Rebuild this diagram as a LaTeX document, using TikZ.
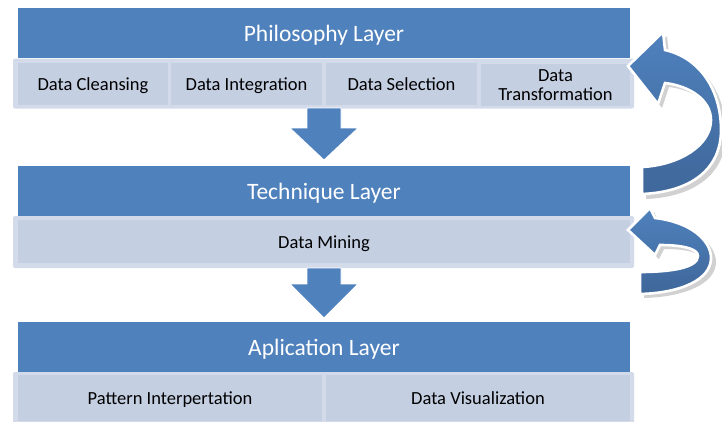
\documentclass[tikz,border=0pt]{standalone}
\usepackage{fontspec}
\setmainfont{Carlito}
\definecolor{hdr}{HTML}{4F81BD}
\definecolor{cell}{HTML}{C4CFE2}
\definecolor{frame}{HTML}{D3DBEA}
\definecolor{dark}{HTML}{3F679A}
\tikzset{
  header/.style={draw=none, fill=hdr, text=white, font=\fontsize{23.5}{26}\selectfont, minimum height=50pt, inner sep=0pt, text height=16pt, text depth=0pt},
  rowframe/.style={draw=none, fill=frame, rounded corners=2pt, inner sep=0pt},
  cellbase/.style={draw=none, fill=cell, text=black, font=\fontsize{18.5}{19}\selectfont, align=center, inner sep=0pt, minimum height=42pt},
  cellbox/.style={cellbase, text height=13pt, text depth=0pt},
  downarrow/.style={draw=white, line width=0.8pt, fill=hdr, line join=miter},
  curved/.style={draw=white, line width=2.6pt, line join=miter, top color=hdr, bottom color=dark},
  shadow/.style={fill=black!30, draw=none, opacity=0.6}
}
\begin{document}
\begin{tikzpicture}[x=1pt,y=-1pt]
\useasboundingbox (0,0) rectangle (722,421);
% Philosophy layer
\node[header, minimum width=612pt] (phil) at (324,33) {Philosophy Layer};
\node[rowframe, minimum width=621pt, minimum height=50pt] (row1) at (323.5,83.5) {};
\node[cellbox, minimum width=150pt] (c1) at (93,84) {Data Cleansing};
\node[cellbox, minimum width=151pt] (c2) at (246.5,84) {Data Integration};
\node[cellbox, minimum width=151pt] (c3) at (401.5,84) {Data Selection};
\node[cellbase, minimum width=149pt] (c4) at (555.5,85) {Data\\Transformation};
% Technique layer
\node[header, minimum width=612pt] (tech) at (324,191) {Technique Layer};
\node[rowframe, minimum width=621pt, minimum height=52pt] (row2) at (323.5,242) {};
\node[cellbox, minimum width=612pt, minimum height=43pt] (mine) at (324,241.5) {Data Mining};
% Aplication layer
\node[header, minimum width=612pt] (app) at (324,347) {Aplication Layer};
\node[rowframe, minimum width=621pt, minimum height=56pt] (row3) at (323.5,400) {};
\node[cellbox, minimum width=304pt, minimum height=46pt] (p1) at (170,398) {Pattern Interpertation};
\node[cellbox, minimum width=304pt, minimum height=46pt] (p2) at (478,398) {Data Visualization};
% down arrows
\coordinate (t1) at (324,108);
\coordinate (t2) at (324,268);
\draw[downarrow] ([xshift=-17pt]t1) -- ([xshift=17pt]t1) -- ([shift={(17pt,20)}]t1) -- ([shift={(34pt,20)}]t1) -- ([shift={(0pt,52)}]t1) -- ([shift={(-34pt,20)}]t1) -- ([shift={(-17pt,20)}]t1) -- cycle;
\draw[downarrow] ([xshift=-17pt]t2) -- ([xshift=17pt]t2) -- ([shift={(17pt,16)}]t2) -- ([shift={(34pt,16)}]t2) -- ([shift={(0pt,50)}]t2) -- ([shift={(-34pt,16)}]t2) -- ([shift={(-17pt,16)}]t2) -- cycle;
% big curved arrow (shadow)
\fill[shadow] (632,70) -- (667,36) -- (669,54) .. controls (704,62) and (726,94) .. (726,134) .. controls (726,174) and (694,197) .. (646,199) -- (646,171) .. controls (684,169) and (716,149) .. (716,124) .. controls (716,104) and (694,90) .. (669,87) -- (662,108) -- cycle;
\draw[curved] (628,66) -- (663,32) -- (665,50) .. controls (700,58) and (721,90) .. (721,130) .. controls (721,170) and (690,192) .. (642,194) -- (642,167) .. controls (680,165) and (711,145) .. (711,120) .. controls (711,100) and (690,86) .. (665,83) -- (658,104) -- cycle;
% small curved arrow (shadow)
\fill[shadow] (632,234) -- (654,212) -- (659,222) .. controls (694,226) and (716,244) .. (716,262) .. controls (716,284) and (684,297) .. (644,298) -- (644,276) .. controls (674,276) and (702,272) .. (702,260) .. controls (702,252) and (684,249) .. (664,249) -- (659,259) -- cycle;
\draw[curved] (628,230) -- (650,208) -- (655,218) .. controls (690,222) and (711,240) .. (711,258) .. controls (711,280) and (680,293) .. (640,294) -- (640,272) .. controls (670,272) and (698,268) .. (698,256) .. controls (698,248) and (680,245) .. (660,245) -- (655,255) -- cycle;
\end{tikzpicture}
\end{document}
